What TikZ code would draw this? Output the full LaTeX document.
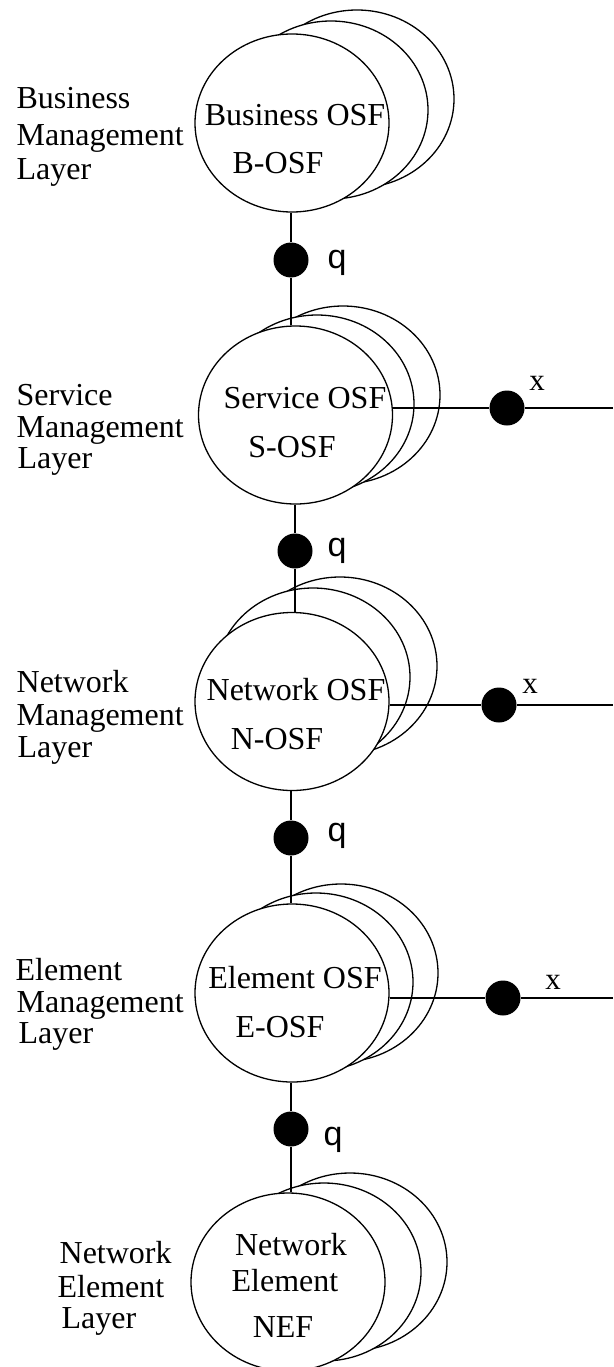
\documentclass[tikz,border=0pt]{standalone}
\usepackage{fontspec}
\setmainfont{Liberation Serif}
\newfontfamily\qfont{Liberation Sans}
\usetikzlibrary{shapes.geometric}
\begin{document}
\begin{tikzpicture}[x=1pt,y=-1pt,line width=1.3pt,
  osf/.style={draw,fill=white,ellipse,minimum width=194pt,minimum height=178pt,inner sep=0pt},
  port/.style={circle,fill=black,minimum size=35pt,inner sep=0pt},
  txt/.style={font=\fontsize{32}{34}\selectfont,anchor=base,inner sep=0pt},
  lbl/.style={font=\fontsize{32}{34}\selectfont,anchor=base west,inner sep=0pt},
  qlbl/.style={font=\qfont\fontsize{34}{36}\selectfont,anchor=base,inner sep=0pt},
  xlbl/.style={font=\fontsize{31}{34}\selectfont,anchor=base,inner sep=0pt}]
\useasboundingbox (0,0) rectangle (613,1367);

% ---- Business management layer
\node[osf] (B3) at (357,99) {};
\node[osf] (B2) at (331,110) {};
\node[osf] (B)  at (292,123) {};
\node[txt] (Bt1) at (295,126) {Business OSF};
\node[txt] (Bt2) at (278,174) {B-OSF};
\node[lbl] (Bl1) at (16,109) {Business};
\node[lbl] (Bl2) at (16,146) {Management};
\node[lbl] (Bl3) at (16,180) {Layer};

% ---- Service management layer
\node[osf] (S3) at (343,395) {};
\node[osf] (S2) at (317,404) {};
\node[osf] (S)  at (295.5,415) {};
\node[txt] (St1) at (305,408) {Service OSF};
\node[txt] (St2) at (292,457) {S-OSF};
\node[lbl] (Sl1) at (16,405) {Service};
\node[lbl] (Sl2) at (16,437) {Management};
\node[lbl] (Sl3) at (17,468) {Layer};

% ---- Network management layer
\node[osf] (N3) at (340,666) {};
\node[osf] (N2) at (313,677) {};
\node[osf] (N)  at (292,701.5) {};
\node[txt] (Nt1) at (296,700) {Network OSF};
\node[txt] (Nt2) at (277,749) {N-OSF};
\node[lbl] (Nl1) at (16,692) {Network};
\node[lbl] (Nl2) at (16,725) {Management};
\node[lbl] (Nl3) at (17,757) {Layer};

% ---- Element management layer
\node[osf] (E3) at (341,973) {};
\node[osf] (E2) at (316,982) {};
\node[osf] (E)  at (292,993) {};
\node[txt] (Et1) at (295,988) {Element OSF};
\node[txt] (Et2) at (280,1037) {E-OSF};
\node[lbl] (El1) at (15,980) {Element};
\node[lbl] (El2) at (16,1012) {Management};
\node[lbl] (El3) at (18,1043) {Layer};

% ---- Network element layer
\node[osf] (F3) at (350,1262) {};
\node[osf] (F2) at (324,1272) {};
\node[osf] (F)  at (288,1282) {};
\node[txt] (Ft1) at (291,1255) {Network};
\node[txt] (Ft2) at (285,1291) {Element};
\node[txt] (Ft3) at (283,1337) {NEF};
\node[lbl] (Fl1) at (59,1263) {Network};
\node[lbl] (Fl2) at (57,1297) {Element};
\node[lbl] (Fl3) at (61,1328) {Layer};

% ---- q reference points between layers
\node[port] (q1) at (291,260) {};
\node[port] (q2) at (295,551) {};
\node[port] (q3) at (291,838) {};
\node[port] (q4) at (291,1129) {};
\node[qlbl] (q1l) at (337,268) {q};
\node[qlbl] (q2l) at (337,556) {q};
\node[qlbl] (q3l) at (337,841) {q};
\node[qlbl] (q4l) at (333,1145) {q};
\draw (B.south -| q1) -- (q1) -- (S.north -| q1);
\draw (S.south -| q2) -- (q2) -- (N.north -| q2);
\draw (N.south -| q3) -- (q3) -- (E.north -| q3);
\draw (E.south -| q4) -- (q4) -- (F.north -| q4);

% ---- x reference points to the right
\node[port] (x1) at (507,408) {};
\node[port] (x2) at (499,705) {};
\node[port] (x3) at (503,998) {};
\coordinate (x1e) at (613,408);
\coordinate (x2e) at (613,705);
\coordinate (x3e) at (613,998);
\node[xlbl] (x1l) at (537,390) {x};
\node[xlbl] (x2l) at (530,693) {x};
\node[xlbl] (x3l) at (553,989) {x};
\draw (S.east |- x1) -- (x1) -- (x1e);
\draw (N.east |- x2) -- (x2) -- (x2e);
\draw (E.east |- x3) -- (x3) -- (x3e);
\end{tikzpicture}
\end{document}
